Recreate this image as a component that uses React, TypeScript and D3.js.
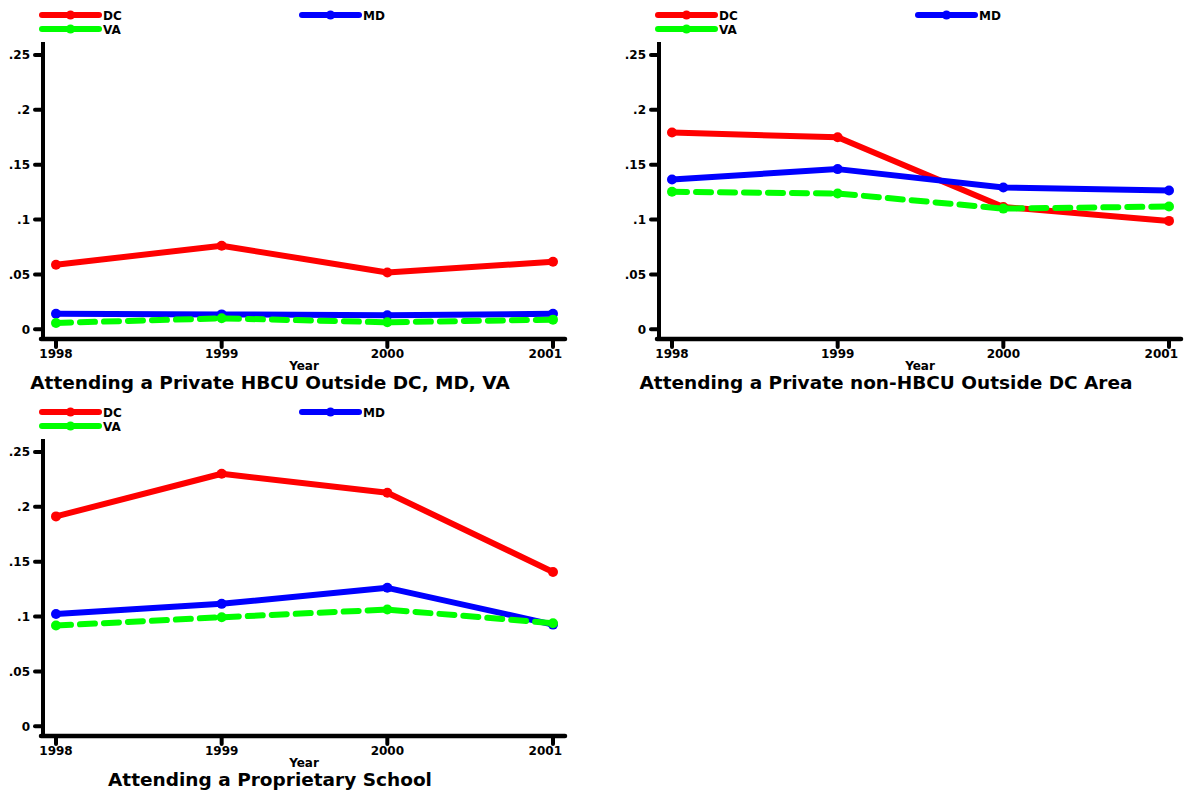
import React from "react";
import * as d3 from "d3";

const years = [1998, 1999, 2000, 2001];
const yTicks = [0, 0.05, 0.1, 0.15, 0.2, 0.25];
const yTickLabels = ["0", ".05", ".1", ".15", ".2", ".25"];
const seriesNames = ["DC", "MD", "VA"];

const titles = [
  "Attending a Private HBCU Outside DC, MD, VA",
  "Attending a Private non-HBCU Outside DC Area",
  "Attending a Proprietary School",
];

const hbcuDC = [0.0588, 0.0762, 0.0518, 0.0615];
const hbcuMD = [0.0142, 0.0136, 0.0127, 0.0142];
const hbcuVA = [0.0058, 0.0100, 0.0064, 0.0088];

const nonHbcuDC = [0.1793, 0.1750, 0.1115, 0.0988];
const nonHbcuMD = [0.1366, 0.1460, 0.1293, 0.1265];
const nonHbcuVA = [0.1253, 0.1238, 0.1100, 0.1119];

const propDC = [0.1913, 0.2302, 0.2129, 0.1407];
const propMD = [0.1024, 0.1116, 0.1262, 0.0927];
const propVA = [0.0918, 0.0994, 0.1064, 0.0939];

const panelData = [
  [hbcuDC, hbcuMD, hbcuVA],
  [nonHbcuDC, nonHbcuMD, nonHbcuVA],
  [propDC, propMD, propVA],
];

const colors = ["#ff0000", "#0000ff", "#00ff00"];
const dashes = [null, null, "15 9"];
const offsets = [
  { dx: 0, dy: 0 },
  { dx: 616, dy: 0 },
  { dx: 0, dy: 397 },
];

const FONT = "'DejaVu Sans', Verdana, sans-serif";

function Panel({ idx }: { idx: number }) {
  const { dx, dy } = offsets[idx];
  const x = d3.scaleLinear().domain([1998, 2001]).range([56, 553]);
  const y = d3.scaleLinear().domain([0, 0.25]).range([329.3, 55]);
  const line = d3
    .line<number>()
    .x((_, i) => x(years[i]))
    .y((d) => y(d));
  const data = panelData[idx];
  const legendPos = [
    { x0: 42, y0: 15 },
    { x0: 302, y0: 15 },
    { x0: 42, y0: 29 },
  ];
  return (
    <g transform={`translate(${dx},${dy})`} fontFamily={FONT} fontWeight="bold">
      {/* legend */}
      {seriesNames.map((name, i) => {
        const lp = legendPos[i];
        return (
          <g key={name}>
            <line
              x1={lp.x0}
              x2={lp.x0 + 57}
              y1={lp.y0}
              y2={lp.y0}
              stroke={colors[i]}
              strokeWidth={6}
              strokeLinecap="round"
            />
            <circle cx={lp.x0 + 28.5} cy={lp.y0} r={4.5} fill={colors[i]} />
            <text x={lp.x0 + 61} y={lp.y0 + 4.5} fontSize={12} fill="#000">
              {name}
            </text>
          </g>
        );
      })}
      {/* y axis */}
      <line x1={43} x2={43} y1={42} y2={341} stroke="#000" strokeWidth={4} />
      {yTicks.map((t, i) => (
        <g key={t}>
          <line x1={35} x2={43} y1={y(t)} y2={y(t)} stroke="#000" strokeWidth={4} strokeLinecap="round" />
          <text x={30} y={y(t) + 4.3} textAnchor="end" fontSize={12} fill="#000">
            {yTickLabels[i]}
          </text>
        </g>
      ))}
      {/* x axis */}
      <line x1={41} x2={565} y1={339} y2={339} stroke="#000" strokeWidth={4.5} strokeLinecap="round" />
      {years.map((yr, i) => (
        <g key={yr}>
          <line x1={x(yr)} x2={x(yr)} y1={339} y2={347} stroke="#000" strokeWidth={4} strokeLinecap="round" />
          <text
            x={i === years.length - 1 ? x(yr) + 9 : x(yr)}
            y={358}
            textAnchor={i === years.length - 1 ? "end" : "middle"}
            fontSize={12}
            fill="#000"
          >
            {yr}
          </text>
        </g>
      ))}
      <text x={304} y={370} textAnchor="middle" fontSize={12} fill="#000">
        Year
      </text>
      <text x={270} y={388.5} textAnchor="middle" fontSize={18.5} fill="#000">
        {titles[idx]}
      </text>
      {/* series */}
      {data.map((vals, i) => (
        <g key={i}>
          <path
            d={line(vals) || ""}
            fill="none"
            stroke={colors[i]}
            strokeWidth={6}
            strokeLinecap="round"
            strokeLinejoin="round"
            strokeDasharray={dashes[i] || undefined}
          />
          {vals.map((v, j) => (
            <circle key={j} cx={x(years[j])} cy={y(v)} r={5} fill={colors[i]} />
          ))}
        </g>
      ))}
    </g>
  );
}

export default function App() {
  return (
    <svg
      width={1186}
      height={794}
      style={{ position: "absolute", left: 0, top: 0, background: "#fff" }}
    >
      <rect x={0} y={0} width={1186} height={794} fill="#fff" />
      {[0, 1, 2].map((i) => (
        <Panel key={i} idx={i} />
      ))}
    </svg>
  );
}
